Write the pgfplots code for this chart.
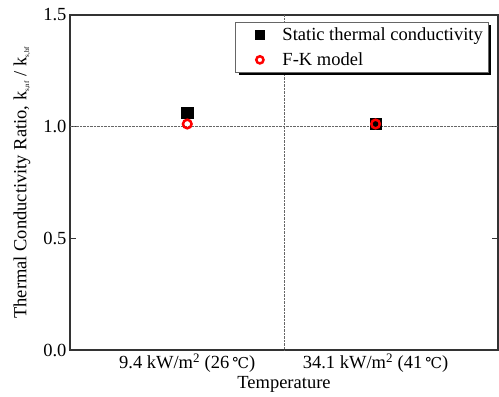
\documentclass[border=0pt]{standalone}
\usepackage{fontspec}
\setmainfont{Liberation Serif}
\newfontfamily\dvs{DejaVu Serif}
\usepackage{pgfplots}
\pgfplotsset{compat=1.18}
\usetikzlibrary{shadows}
\newcommand{\degC}{\,{\dvs\fontsize{15}{17}\selectfont ℃}}
\begin{document}
\begin{tikzpicture}
\begin{axis}[
  scale only axis,
  width=428pt, height=335pt,
  xmin=0, xmax=1, ymin=0, ymax=1.5,
  xtick={0.274,0.714},
  xticklabels={9.4 kW/m\textsuperscript{2} (26\degC), 34.1 kW/m\textsuperscript{2} (41\degC)},
  x tick style={draw=none},
  ytick={0,0.5,1,1.5},
  yticklabel style={/pgf/number format/.cd, fixed, fixed zerofill, precision=1},
  /pgf/number format/assume math mode=true,
  tick label style={font=\fontsize{18.5}{21}\selectfont},
  label style={font=\fontsize{18.5}{21}\selectfont},
  tick align=inside,
  major tick length=6pt,
  y tick style={line width=1pt, black!80},
  axis line style={line width=1.3pt, black!80},
  xlabel={Temperature},
  ylabel={Thermal Conductivity Ratio, k\textsubscript{\fontsize{7}{8}\selectfont s,nf} / k\textsubscript{\fontsize{7}{8}\selectfont s,bf}},
  xlabel style={yshift=3pt},
  ylabel style={yshift=6pt},
  extra y ticks={1},
  extra y tick labels={},
  extra x ticks={0.5},
  extra x tick labels={},
  extra tick style={grid=major, major tick length=0pt, grid style={densely dotted, black!60, line width=0.8pt}},
  legend style={at={(rel axis cs:0.977,0.979)}, anchor=north east, draw=black!60, line width=0.6pt,
    fill=white, drop shadow={shadow xshift=3pt, shadow yshift=-3pt, fill=black, opacity=1},
    font=\fontsize{18.5}{21}\selectfont, row sep=7pt, column sep=16pt, inner xsep=3pt, inner ysep=3pt},
  legend image code/.code={\path (0pt,0pt); \draw[#1] plot coordinates {(21pt,0pt)};},
  legend cell align=left,
]
\addplot[only marks, mark=square*, mark size=5.6pt, mark options={fill=black, draw=black},
  legend image post style={mark size=4.6pt}] coordinates {(0.274,1.061) (0.714,1.012)};
\addlegendentry{Static thermal conductivity}
\addplot[only marks, mark=o, mark size=4.3pt, mark options={draw=red, line width=2.5pt},
  legend image post style={mark size=3.6pt}] coordinates {(0.274,1.012) (0.714,1.012)};
\addlegendentry{F-K model}
\end{axis}
\pgfresetboundingbox
\path (current axis.south west) ++(-70pt,-47pt) rectangle ++(499pt,397pt);
\end{tikzpicture}
\end{document}
